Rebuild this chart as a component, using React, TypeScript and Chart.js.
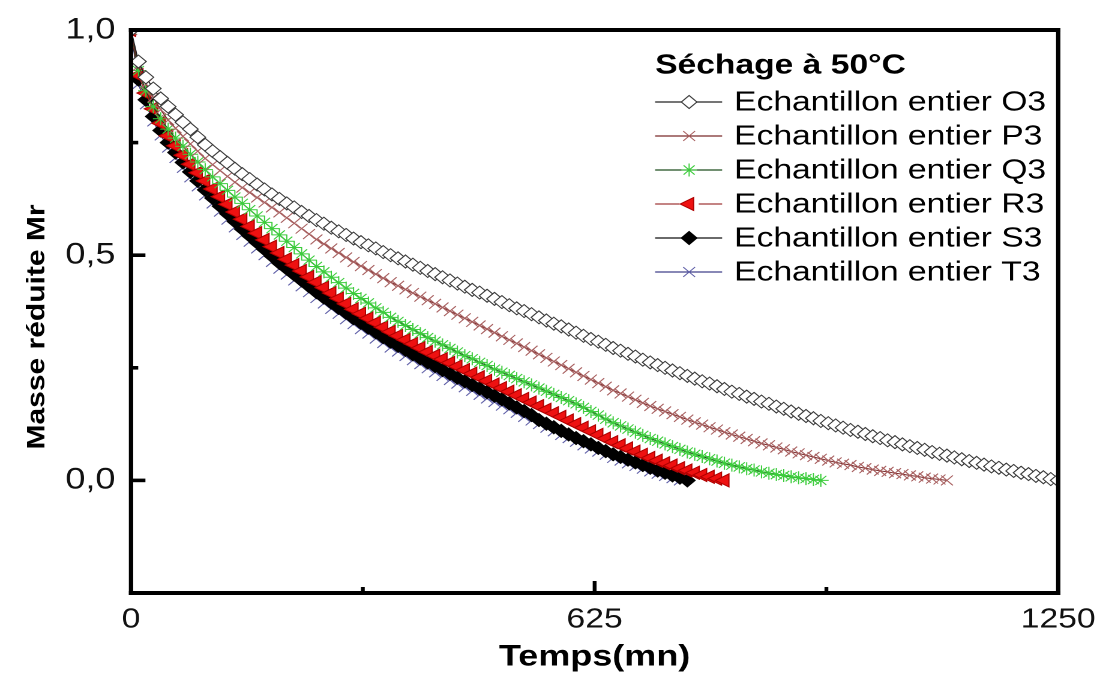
import React, { useEffect, useRef } from 'react';
import { Chart, registerables } from 'chart.js';
Chart.register(...registerables);

// ---------------- data ----------------
const timeMin = [
  0, 10, 20, 30, 40, 50, 60, 70, 80, 90, 100, 110, 120, 130, 140, 150, 160, 170, 180, 190,
  200, 210, 220, 230, 240, 250, 260, 270, 280, 290, 300, 310, 320, 330, 340, 350, 360, 370, 380, 390,
  400, 410, 420, 430, 440, 450, 460, 470, 480, 490, 500, 510, 520, 530, 540, 550, 560, 570, 580, 590,
  600, 610, 620, 630, 640, 650, 660, 670, 680, 690, 700, 710, 720, 730, 740, 750, 760, 770, 780, 790,
  800, 810, 820, 830, 840, 850, 860, 870, 880, 890, 900, 910, 920, 930, 940, 950, 960, 970, 980, 990,
  1000, 1010, 1020, 1030, 1040, 1050, 1060, 1070, 1080, 1090, 1100, 1110, 1120, 1130, 1140, 1150,
  1160, 1170, 1180, 1190, 1200, 1210, 1220, 1230, 1240, 1250,
];

const mrO3 = [
  1.0, 0.93, 0.895, 0.87, 0.848, 0.83, 0.812, 0.795, 0.78, 0.762,
  0.745, 0.731, 0.718, 0.705, 0.692, 0.68, 0.669, 0.657, 0.646, 0.635,
  0.625, 0.615, 0.606, 0.596, 0.587, 0.578, 0.57, 0.561, 0.553, 0.545,
  0.537, 0.529, 0.522, 0.515, 0.507, 0.5, 0.493, 0.486, 0.479, 0.472,
  0.465, 0.458, 0.451, 0.444, 0.437, 0.43, 0.423, 0.417, 0.41, 0.403,
  0.396, 0.389, 0.382, 0.376, 0.369, 0.362, 0.355, 0.348, 0.342, 0.335,
  0.328, 0.321, 0.314, 0.308, 0.301, 0.294, 0.288, 0.281, 0.275, 0.268,
  0.262, 0.256, 0.25, 0.244, 0.238, 0.232, 0.226, 0.22, 0.215, 0.209,
  0.203, 0.197, 0.192, 0.186, 0.181, 0.175, 0.17, 0.164, 0.159, 0.153,
  0.148, 0.143, 0.138, 0.132, 0.127, 0.122, 0.117, 0.112, 0.108, 0.103,
  0.098, 0.094, 0.089, 0.085, 0.08, 0.076, 0.072, 0.068, 0.063, 0.059,
  0.055, 0.051, 0.047, 0.043, 0.039, 0.035, 0.031, 0.028, 0.024, 0.021,
  0.017, 0.014, 0.01, 0.007, 0.003, 0,
];

const mrP3 = [
  1.0, 0.92, 0.88, 0.85, 0.823, 0.8, 0.782, 0.764, 0.747, 0.731,
  0.715, 0.701, 0.688, 0.675, 0.662, 0.65, 0.639, 0.628, 0.617, 0.606,
  0.595, 0.583, 0.571, 0.559, 0.547, 0.535, 0.525, 0.515, 0.505, 0.495,
  0.485, 0.476, 0.467, 0.458, 0.449, 0.44, 0.432, 0.424, 0.416, 0.408,
  0.4, 0.392, 0.384, 0.376, 0.368, 0.36, 0.352, 0.344, 0.336, 0.328,
  0.32, 0.312, 0.304, 0.296, 0.288, 0.28, 0.272, 0.264, 0.256, 0.248,
  0.24, 0.232, 0.224, 0.216, 0.208, 0.2, 0.193, 0.186, 0.179, 0.172,
  0.165, 0.159, 0.153, 0.147, 0.141, 0.135, 0.129, 0.124, 0.118, 0.113,
  0.107, 0.102, 0.097, 0.092, 0.087, 0.082, 0.078, 0.073, 0.069, 0.064,
  0.06, 0.056, 0.052, 0.048, 0.044, 0.04, 0.037, 0.034, 0.03, 0.027,
  0.024, 0.021, 0.019, 0.016, 0.014, 0.011, 0.009, 0.006, 0.004, 0.002,
  0,
];

const mrQ3 = [
  1.0, 0.91, 0.865, 0.83, 0.803, 0.78, 0.76, 0.742, 0.724, 0.707,
  0.69, 0.674, 0.659, 0.644, 0.629, 0.615, 0.601, 0.587, 0.573, 0.559,
  0.545, 0.531, 0.517, 0.503, 0.489, 0.475, 0.463, 0.451, 0.439, 0.427,
  0.415, 0.404, 0.394, 0.383, 0.373, 0.362, 0.353, 0.344, 0.335, 0.326,
  0.317, 0.309, 0.301, 0.293, 0.285, 0.277, 0.27, 0.262, 0.255, 0.247,
  0.24, 0.233, 0.226, 0.219, 0.212, 0.205, 0.198, 0.191, 0.184, 0.177,
  0.17, 0.162, 0.153, 0.145, 0.136, 0.128, 0.121, 0.114, 0.107, 0.1,
  0.093, 0.087, 0.081, 0.075, 0.069, 0.063, 0.058, 0.053, 0.048, 0.043,
  0.038, 0.034, 0.03, 0.026, 0.023, 0.019, 0.016, 0.013, 0.011, 0.008,
  0.006, 0.004, 0.002, 0,
];

const mrR3 = [
  1.0, 0.9, 0.86, 0.825, 0.793, 0.765, 0.743, 0.722, 0.702, 0.683,
  0.665, 0.647, 0.63, 0.613, 0.596, 0.58, 0.564, 0.549, 0.534, 0.519,
  0.505, 0.491, 0.478, 0.465, 0.452, 0.44, 0.428, 0.416, 0.404, 0.392,
  0.38, 0.37, 0.36, 0.35, 0.34, 0.33, 0.321, 0.312, 0.303, 0.294,
  0.285, 0.277, 0.269, 0.261, 0.253, 0.245, 0.237, 0.229, 0.221, 0.213,
  0.205, 0.197, 0.189, 0.181, 0.173, 0.165, 0.157, 0.149, 0.141, 0.133,
  0.125, 0.117, 0.109, 0.101, 0.093, 0.085, 0.078, 0.071, 0.064, 0.057,
  0.05, 0.044, 0.038, 0.033, 0.027, 0.022, 0.017, 0.012, 0.008, 0.004,
  0,
];

const mrS3 = [
  1.0, 0.89, 0.845, 0.808, 0.777, 0.75, 0.728, 0.706, 0.685, 0.665,
  0.645, 0.627, 0.609, 0.592, 0.575, 0.558, 0.543, 0.528, 0.513, 0.498,
  0.483, 0.47, 0.457, 0.444, 0.431, 0.418, 0.406, 0.395, 0.383, 0.372,
  0.36, 0.35, 0.339, 0.329, 0.318, 0.308, 0.299, 0.29, 0.28, 0.271,
  0.262, 0.254, 0.245, 0.237, 0.228, 0.22, 0.212, 0.204, 0.196, 0.188,
  0.18, 0.171, 0.162, 0.154, 0.145, 0.134, 0.126, 0.118, 0.11, 0.102,
  0.094, 0.087, 0.08, 0.072, 0.065, 0.058, 0.052, 0.046, 0.04, 0.034,
  0.028, 0.022, 0.017, 0.011, 0.006, 0,
];

const mrT3 = [
  1.0, 0.88, 0.835, 0.797, 0.766, 0.739, 0.716, 0.694, 0.673, 0.653,
  0.633, 0.615, 0.597, 0.579, 0.562, 0.545, 0.53, 0.515, 0.5, 0.485,
  0.47, 0.457, 0.444, 0.431, 0.418, 0.405, 0.393, 0.381, 0.37, 0.358,
  0.347, 0.336, 0.326, 0.315, 0.305, 0.295, 0.286, 0.276, 0.267, 0.258,
  0.249, 0.24, 0.232, 0.223, 0.215, 0.207, 0.199, 0.19, 0.182, 0.174,
  0.166, 0.158, 0.15, 0.141, 0.133, 0.125, 0.117, 0.109, 0.101, 0.094,
  0.086, 0.078, 0.071, 0.064, 0.057, 0.05, 0.044, 0.038, 0.032, 0.026,
  0.02, 0.015, 0.01, 0.005, 0,
];

const seriesNames = [
  'Echantillon entier O3',
  'Echantillon entier P3',
  'Echantillon entier Q3',
  'Echantillon entier R3',
  'Echantillon entier S3',
  'Echantillon entier T3',
];
const seriesValues = [mrO3, mrP3, mrQ3, mrR3, mrS3, mrT3];

const legendTitle = 'Séchage à 50°C';
const xAxisTitle = 'Temps(mn)';
const yAxisTitle = 'Masse réduite Mr';
const xTickValues = [0, 625, 1250];
const xTickLabels = ['0', '625', '1250'];
const yTickValues = [0, 0.5, 1];
const yTickLabels = ['0,0', '0,5', '1,0'];

// ---------------- styles ----------------
type Sty = { line: string; shape: string; bg: string; border: string; r: number; rot: number };
const styles: Sty[] = [
  { line: '#222222', shape: 'rectRot', bg: '#ffffff', border: '#3a3a3a', r: 6.5, rot: 0 },
  { line: '#7a2a2a', shape: 'crossRot', bg: '#a86060', border: '#a86060', r: 7, rot: 0 },
  { line: '#1e4d1e', shape: 'star', bg: '#3ccc3c', border: '#3ccc3c', r: 6.5, rot: 0 },
  { line: '#a03a3a', shape: 'triangle', bg: '#ee1111', border: '#b00000', r: 7.5, rot: -90 },
  { line: '#111111', shape: 'rectRot', bg: '#000000', border: '#000000', r: 6.5, rot: 0 },
  { line: '#40408a', shape: 'crossRot', bg: '#6060a8', border: '#6060a8', r: 7, rot: 0 },
];

const FONT = "'Liberation Sans', Arial, Helvetica, sans-serif";
const OUT_W = 1109;
const OUT_H = 689;
const SX = 1.2; // horizontal stretch of the reference
const W = Math.round(OUT_W / SX);
const H = OUT_H;
const AREA_LEFT = 131 / SX;
const AREA_RIGHT = 1058 / SX;
const AREA_TOP = 30;
const AREA_BOTTOM = 593;

function drawMarker(ctx: CanvasRenderingContext2D, s: Sty, x: number, y: number) {
  const r = s.r;
  ctx.save();
  ctx.fillStyle = s.bg;
  ctx.strokeStyle = s.border;
  ctx.lineWidth = 1;
  ctx.beginPath();
  if (s.shape === 'rectRot') {
    ctx.moveTo(x, y - r);
    ctx.lineTo(x + r, y);
    ctx.lineTo(x, y + r);
    ctx.lineTo(x - r, y);
    ctx.closePath();
    ctx.fill();
    ctx.stroke();
  } else if (s.shape === 'crossRot' || s.shape === 'star') {
    const o = r * Math.SQRT1_2;
    ctx.moveTo(x - o, y - o);
    ctx.lineTo(x + o, y + o);
    ctx.moveTo(x - o, y + o);
    ctx.lineTo(x + o, y - o);
    if (s.shape === 'star') {
      ctx.moveTo(x, y - r);
      ctx.lineTo(x, y + r);
      ctx.moveTo(x - r, y);
      ctx.lineTo(x + r, y);
    }
    ctx.stroke();
  } else if (s.shape === 'triangle') {
    ctx.moveTo(x - r, y);
    ctx.lineTo(x + r * 0.5, y - r * 0.866);
    ctx.lineTo(x + r * 0.5, y + r * 0.866);
    ctx.closePath();
    ctx.fill();
    ctx.stroke();
  }
  ctx.restore();
}

const decorPlugin = {
  id: 'decor',
  afterDatasetsDraw(chart: any) {
    const ctx: CanvasRenderingContext2D = chart.ctx;
    const { left, right, top, bottom } = chart.chartArea;
    const xs = chart.scales.x;
    const ys = chart.scales.y;
    ctx.save();
    ctx.fillStyle = '#000';
    // y ticks (inward)
    ys.ticks.forEach((t: any) => {
      const v = t.value;
      const py = ys.getPixelForValue(v);
      if (py < top + 1 || py > bottom - 1) return;
      const major = yTickValues.some((m) => Math.abs(m - v) < 1e-6);
      const len = major ? 12 : 6;
      ctx.fillRect(left, py - 1.8, len, 3.6);
    });
    // x ticks (inward)
    xs.ticks.forEach((t: any) => {
      const v = t.value;
      const px = xs.getPixelForValue(v);
      if (px < left + 1 || px > right - 1) return;
      const major = xTickValues.some((m) => Math.abs(m - v) < 1e-6);
      const len = major ? 12 : 6;
      ctx.fillRect(px - 1.6, bottom - len, 3.2, len);
    });
    // frame
    const hw = 4;
    const vw = 3.6;
    ctx.fillRect(left - vw / 2, top - hw / 2, right - left + vw, hw);
    ctx.fillRect(left - vw / 2, bottom - hw / 2, right - left + vw, hw);
    ctx.fillRect(left - vw / 2, top - hw / 2, vw, bottom - top + hw);
    ctx.fillRect(right - vw / 2, top - hw / 2, vw, bottom - top + hw);
    ctx.restore();
  },
  afterDraw(chart: any) {
    const ctx: CanvasRenderingContext2D = chart.ctx;
    ctx.save();
    ctx.translate(37 / SX, 327);
    ctx.rotate(-Math.PI / 2);
    ctx.scale(1, 0.72);
    ctx.font = `bold 30px ${FONT}`;
    ctx.fillStyle = '#000';
    ctx.textAlign = 'center';
    ctx.textBaseline = 'middle';
    ctx.fillText(yAxisTitle, 0, 0);
    ctx.restore();

    // legend
    ctx.save();
    const lx0 = 655 / SX;
    const lx1 = 722 / SX;
    const mx = 689 / SX;
    const tx = 734 / SX;
    ctx.fillStyle = '#000';
    ctx.textAlign = 'left';
    ctx.textBaseline = 'middle';
    ctx.font = `bold 28px ${FONT}`;
    ctx.fillText(legendTitle, lx0, 66);
    ctx.font = `28px ${FONT}`;
    seriesNames.forEach((name, i) => {
      const y = 102 + i * 34;
      const s = styles[i];
      ctx.strokeStyle = s.line;
      ctx.lineWidth = 1.2;
      ctx.beginPath();
      if (s.shape === 'triangle') {
        ctx.moveTo(lx0, y);
        ctx.lineTo(mx - 8, y);
        ctx.moveTo(mx + 8, y);
        ctx.lineTo(lx1, y);
      } else {
        ctx.moveTo(lx0, y);
        ctx.lineTo(lx1, y);
      }
      ctx.stroke();
      drawMarker(ctx, s, mx, y);
      ctx.fillStyle = '#000';
      ctx.fillText(name, tx, y + 1);
    });
    ctx.restore();
  },
};

export default function App() {
  const ref = useRef<HTMLCanvasElement | null>(null);

  useEffect(() => {
    const canvas = ref.current;
    if (!canvas) return;
    Chart.defaults.font.family = FONT;
    Chart.defaults.color = '#000';

    const datasets = seriesValues.map((vals, i) => {
      const s = styles[i];
      return {
        label: seriesNames[i],
        data: vals.map((v, j) => ({ x: timeMin[j], y: v })),
        borderColor: s.line,
        borderWidth: 1,
        backgroundColor: s.bg,
        pointStyle: s.shape as any,
        pointRotation: s.rot,
        pointRadius: s.r,
        pointBackgroundColor: s.bg,
        pointBorderColor: s.border,
        pointBorderWidth: 1,
        showLine: true,
        tension: 0,
        fill: false,
      };
    });

    const chart = new Chart(canvas, {
      type: 'line',
      data: { datasets },
      plugins: [decorPlugin],
      options: {
        animation: false,
        responsive: false,
        devicePixelRatio: 2,
        events: [],
        layout: {
          padding: { left: 0, top: AREA_TOP, right: W - AREA_RIGHT, bottom: 0 },
        },
        plugins: {
          legend: { display: false },
          tooltip: { enabled: false },
          title: { display: false },
        },
        scales: {
          x: {
            type: 'linear',
            min: 0,
            max: 1250,
            border: { display: false },
            grid: { display: false, drawTicks: false },
            ticks: {
              stepSize: 312.5,
              autoSkip: false,
              maxRotation: 0,
              padding: 10,
              color: '#111',
              font: { size: 28, family: FONT },
              callback: (v: any) => {
                const k = xTickValues.findIndex((m) => Math.abs(m - Number(v)) < 1e-6);
                return k >= 0 ? xTickLabels[k] : '';
              },
            },
            title: {
              display: true,
              text: xAxisTitle,
              color: '#000',
              font: { size: 30, weight: 'bold', family: FONT },
              padding: { top: 0, bottom: 14 },
            },
            afterFit: (scale: any) => {
              scale.height = H - AREA_BOTTOM;
              scale.paddingLeft = 0;
              scale.paddingRight = 0;
              scale.paddingTop = 0;
              scale.paddingBottom = 0;
            },
          },
          y: {
            type: 'linear',
            min: -0.25,
            max: 1,
            border: { display: false },
            grid: { display: false, drawTicks: false },
            ticks: {
              stepSize: 0.25,
              autoSkip: false,
              padding: 13,
              color: '#111',
              font: { size: 30, family: FONT },
              callback: (v: any) => {
                const k = yTickValues.findIndex((m) => Math.abs(m - Number(v)) < 1e-6);
                return k >= 0 ? yTickLabels[k] : '';
              },
            },
            title: { display: false },
            afterFit: (scale: any) => {
              scale.width = AREA_LEFT;
              scale.paddingLeft = 0;
              scale.paddingRight = 0;
              scale.paddingTop = 0;
              scale.paddingBottom = 0;
            },
          },
        },
      } as any,
    });

    return () => {
      chart.destroy();
    };
  }, []);

  return (
    <div
      style={{
        position: 'fixed',
        left: 0,
        top: 0,
        width: OUT_W,
        height: OUT_H,
        background: '#ffffff',
        overflow: 'hidden',
      }}
    >
      <canvas
        ref={ref}
        width={W}
        height={H}
        style={{ width: `${OUT_W}px`, height: `${OUT_H}px`, display: 'block' }}
      />
    </div>
  );
}
